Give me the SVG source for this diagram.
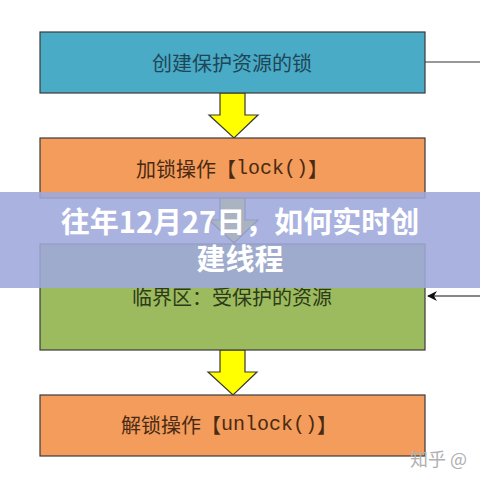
<svg xmlns="http://www.w3.org/2000/svg" width="480" height="480" viewBox="0 0 480 480">
<style>
.box{stroke:#3a3a3a;stroke-width:1.2}
.lbl{font-family:"Noto Sans CJK SC","Liberation Serif",serif;font-size:20px;text-anchor:middle;dominant-baseline:central}
.mono{font-family:"Liberation Mono","Noto Sans CJK SC",monospace}
.arr{fill:#ffff00;stroke:#3a3a2a;stroke-width:1.2;stroke-linejoin:miter}
.title{font-family:"Noto Sans CJK SC",sans-serif;font-size:29px;font-weight:bold;fill:#ffffff;text-anchor:middle}
</style>
<defs>
<marker id="ah" markerWidth="10" markerHeight="10" refX="9" refY="5" orient="auto" markerUnits="userSpaceOnUse" viewBox="0 0 10 10">
<path d="M0,0 L10,5 L0,10 L3,5 Z" fill="#111"/>
</marker>
</defs>
<rect width="480" height="480" fill="#ffffff"/>
<g id="connectors">
<path class="arr" d="M220,93 H245 V115 H258 L234,138 L209,115 H220 Z"/>
<path class="arr" d="M220,198 H245 V220 H258 L234,243 L209,220 H220 Z"/>
<path class="arr" d="M220,350 H245 V372 H257 L233,395 L208,372 H220 Z"/>
<line x1="425" y1="62" x2="480" y2="62" stroke="#333" stroke-width="1.2"/>
<line x1="480" y1="296" x2="428" y2="296" stroke="#111" stroke-width="1.2" marker-end="url(#ah)"/>
</g>
<g id="n1">
<rect class="box" x="40" y="32" width="385" height="61" fill="#4aabc6"/>
<text class="lbl" x="232" y="62" fill="#1e4656">创建保护资源的锁</text>
</g>
<g id="n2">
<rect class="box" x="40" y="138" width="385" height="60" fill="#f39c5c"/>
<text class="lbl" x="232" y="168" fill="#4a2a12">加锁操作【<tspan class="mono">lock()</tspan>】</text>
</g>
<g id="n3">
<rect class="box" x="40" y="244" width="385" height="106" fill="#9bbb5e"/>
<text class="lbl" x="232" y="296" fill="#2e3a18">临界区：受保护的资源</text>
</g>
<g id="n4">
<rect class="box" x="40" y="395" width="385" height="61" fill="#f39c5c"/>
<text class="lbl" x="229" y="424" fill="#4a2a12">解锁操作【<tspan class="mono">unlock()</tspan>】</text>
</g>
<text x="410" y="466" font-family="Noto Sans CJK SC,sans-serif" font-size="18" fill="#b0b0b0">知乎 @</text>
<g id="banner">
<rect x="0" y="192" width="480" height="96" fill="#9ea8dc" opacity="0.88"/>
<text class="title" x="240" y="233">往年12月27日，如何实时创</text>
<text class="title" x="240" y="270">建线程</text>
</g>
</svg>
